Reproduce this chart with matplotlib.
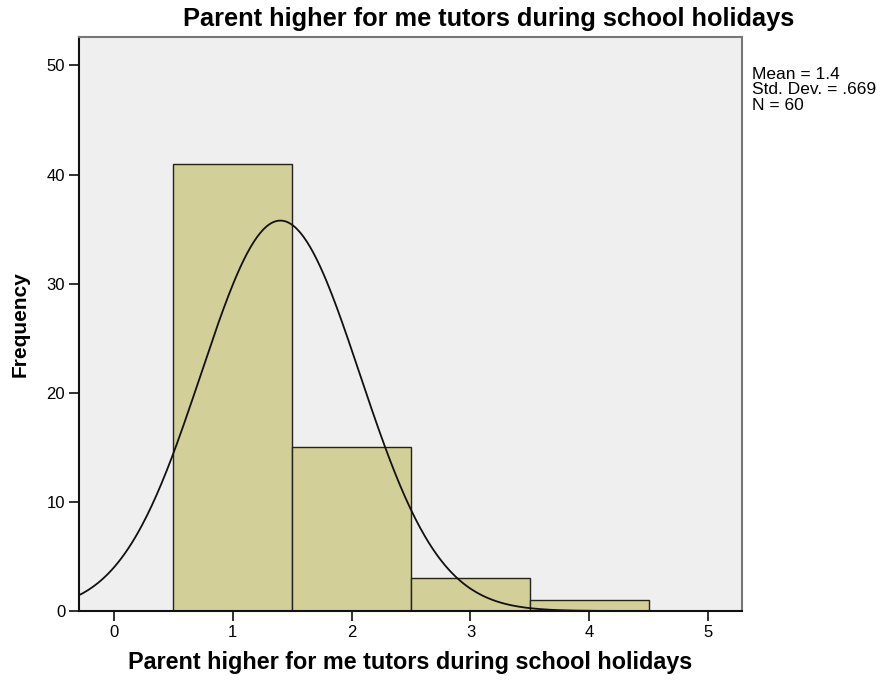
import numpy as np
import matplotlib.pyplot as plt

# du lieu doc tu hinh
gia_tri = [1, 2, 3, 4]
tan_so = [41, 15, 3, 1]
trung_binh = 1.4
do_lech = 0.669
n = 60
x_ticks = [0, 1, 2, 3, 4, 5]
y_ticks = [0, 10, 20, 30, 40, 50]
tieu_de = 'Parent higher for me tutors during school holidays'

plt.rcParams['font.family'] = ['Liberation Sans', 'DejaVu Sans']

fig = plt.figure(figsize=(8.78, 6.8), dpi=100)
ax = fig.add_axes([0.09, 0.1015, 0.755, 0.844])
ax.set_facecolor('#efefef')

ax.bar(gia_tri, tan_so, width=1.0, color='#d3cf99', edgecolor='#222222', linewidth=1.0, zorder=2)

# duong cong chuan
xs = np.linspace(-0.3, 5.3, 400)
ys = n * 1.0 / (do_lech * np.sqrt(2 * np.pi)) * np.exp(-0.5 * ((xs - trung_binh) / do_lech) ** 2)
ax.plot(xs, ys, color='#111111', linewidth=1.3, zorder=3)

ax.set_xlim(-0.295, 5.285)
ax.set_ylim(0, 52.6)
ax.set_xticks(x_ticks)
ax.set_yticks(y_ticks)
ax.tick_params(axis='both', direction='out', length=7, width=1.3, labelsize=12, pad=3, color='#222222')

for s in ['left', 'bottom']:
    ax.spines[s].set_color('#111111')
    ax.spines[s].set_linewidth(1.5)
for s in ['top', 'right']:
    ax.spines[s].set_color('#777777')
    ax.spines[s].set_linewidth(1.5)

fig.text(0.557, 0.972, tieu_de, ha='center', va='center', fontsize=18.3, fontweight='bold')
fig.text(0.467, 0.025, tieu_de, ha='center', va='center', fontsize=16.8, fontweight='bold')
ax.set_ylabel('Frequency', fontsize=15, fontweight='bold', labelpad=12)

fig.text(0.857, 0.902, 'Mean = 1.4\nStd. Dev. = .669\nN = 60', ha='left', va='top', fontsize=12.5, linespacing=1.05)

fig.savefig('out.png', dpi=100)
